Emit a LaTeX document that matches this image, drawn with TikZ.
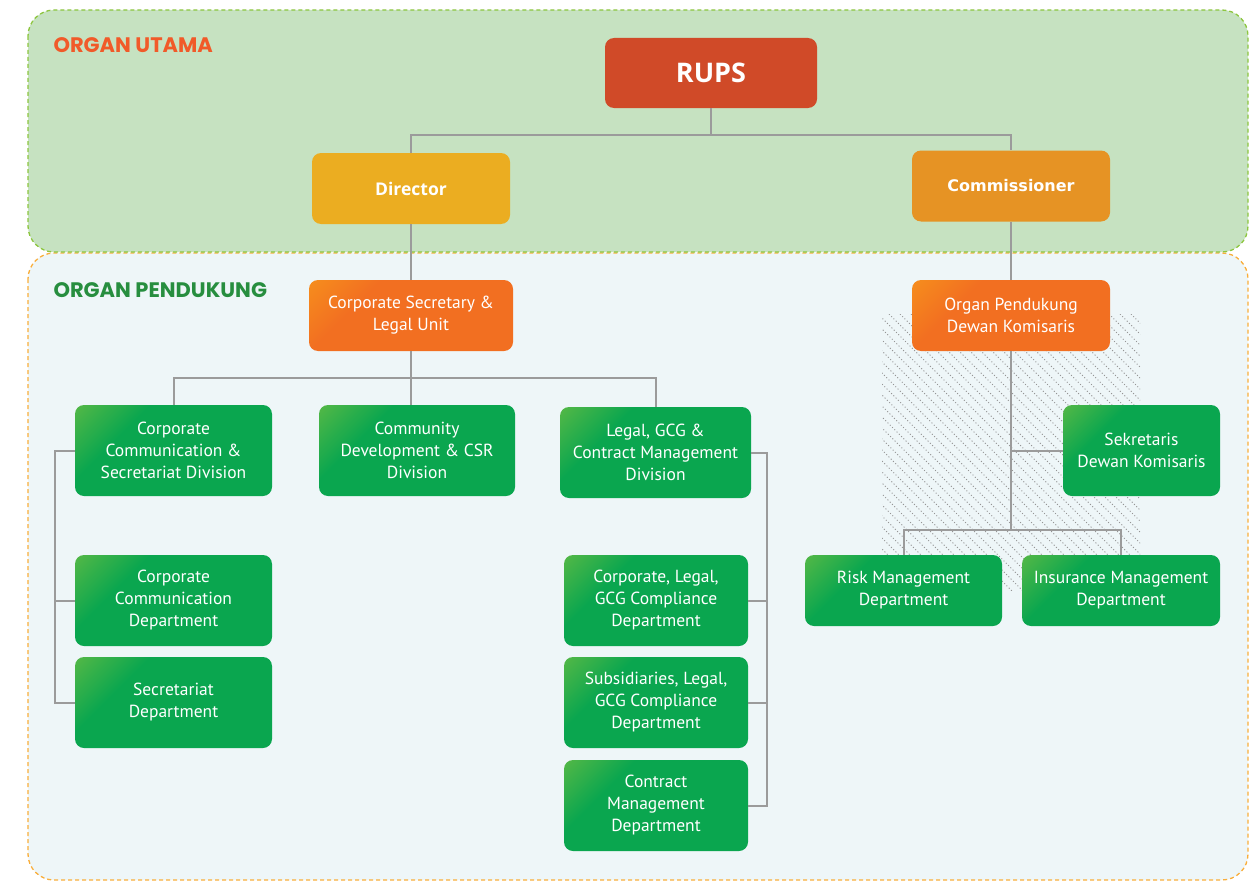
\documentclass[tikz,border=0pt]{standalone}
\usepackage{fontspec}
\setmainfont{PT Sans}
\newfontfamily\headfont{Poppins}
\newfontfamily\topfont{Open Sans}
\newfontfamily\wideboldfont{DejaVu Sans}
\usetikzlibrary{calc}
\definecolor{TopBg}{HTML}{C6E2C1}
\definecolor{LowBg}{HTML}{EEF6F8}
\definecolor{TopLine}{HTML}{8DC63F}
\definecolor{LowLine}{HTML}{F9AE3B}
\definecolor{Rups}{HTML}{D04A28}
\definecolor{Gold}{HTML}{EBAD21}
\definecolor{Amber}{HTML}{E69324}
\definecolor{OrgLight}{HTML}{F9A51A}
\definecolor{OrgMain}{HTML}{F26F21}
\definecolor{GrnLight}{HTML}{8DC63F}
\definecolor{GrnMain}{HTML}{0AA64F}
\definecolor{Wire}{HTML}{9B9B9B}
\definecolor{Hatch}{HTML}{959595}
\definecolor{TitleRed}{HTML}{F15A29}
\definecolor{TitleGreen}{HTML}{278E3F}
\pgfdeclarehorizontalshading{greenfade}{100bp}{color(0bp)=(GrnLight); color(33bp)=(GrnMain); color(100bp)=(GrnMain)}
\pgfdeclarehorizontalshading{orangefade}{100bp}{color(0bp)=(OrgLight); color(33bp)=(OrgMain); color(100bp)=(OrgMain)}
\tikzset{
  orgbox/.style={
    rounded corners=9pt, text=white, align=center, inner sep=0pt
  },
  topbox/.style={
    orgbox, font=\topfont\bfseries\fontsize{17.5}{20}\selectfont
  },
  unitbox/.style={
    orgbox, shading=orangefade, shading angle=-45,
    font=\fontsize{17.5}{22}\selectfont
  },
  deptbox/.style={
    orgbox, shading=greenfade, shading angle=-45,
    font=\fontsize{17.5}{22}\selectfont
  },
  link/.style={draw=Wire, line width=2pt},
  zone/.style={rounded corners=26pt, line width=1.3pt, dash pattern=on 4pt off 3pt},
  hatch/.style={draw=Hatch, line width=1pt, dash pattern=on 1pt off 2.2pt},
  zonelabel/.style={anchor=west, font=\headfont\bfseries\fontsize{21}{24}\selectfont}
}

\begin{document}
\begin{tikzpicture}[x=1pt,y=-1pt]
  \useasboundingbox (0,0) rectangle (1259,883);
  % zones
  \draw[zone, draw=LowLine, fill=LowBg] (28,253) rectangle (1248,880);
  \draw[zone, draw=TopLine, fill=TopBg] (28,10) rectangle (1248,252);
  \node[zonelabel, text=TitleRed] (utama) at (50,45) {ORGAN UTAMA};
  \node[zonelabel, text=TitleGreen] (pendukung) at (50,290) {ORGAN PENDUKUNG};
  % hatched area behind the board support
  \begin{scope}
    \clip (882,314) rectangle (1140,590);
    \foreach \i in {-290,-279,...,270}
      \draw[hatch] (882+\i,314) -- (1182+\i,614);
  \end{scope}

  % organ utama
  \node[topbox, fill=Rups, minimum width=212pt, minimum height=70pt,
    font=\topfont\bfseries\fontsize{27}{30}\selectfont] (rups) at (711,73) {RUPS};
  \node[topbox, fill=Gold, minimum width=198pt, minimum height=71pt] (director) at (411,188.5) {Director};
  \node[topbox, fill=Amber, minimum width=198pt, minimum height=71pt,
    font=\wideboldfont\bfseries\fontsize{16}{19}\selectfont] (commissioner) at (1011,186) {Commissioner};

  % organ pendukung
  \node[unitbox, minimum width=204pt, minimum height=71pt] (corpsec) at (411,315.5) {Corporate Secretary \&\\Legal Unit};
  \node[unitbox, minimum width=198pt, minimum height=71pt] (opdk) at (1011,315.5) {Organ Pendukung\\Dewan Komisaris};

  \node[deptbox, minimum width=197pt, minimum height=91pt] (ccsd) at (173.5,450.5) {Corporate\\Communication \&\\Secretariat Division};
  \node[deptbox, minimum width=196pt, minimum height=91pt] (cdcsr) at (417,450.5) {Community\\Development \& CSR\\Division};
  \node[deptbox, minimum width=191pt, minimum height=91pt] (lgcm) at (655.5,452.5) {Legal, GCG \&\\Contract Management\\Division};

  \node[deptbox, minimum width=197pt, minimum height=91pt] (ccdept) at (173.5,600.5) {Corporate\\Communication\\Department};
  \node[deptbox, minimum width=197pt, minimum height=91pt] (secdept) at (173.5,702.5) {Secretariat\\Department};

  \node[deptbox, minimum width=184pt, minimum height=91pt] (clgcg) at (656,600.5) {Corporate, Legal,\\GCG Compliance\\Department};
  \node[deptbox, minimum width=184pt, minimum height=91pt] (slgcg) at (656,702.5) {Subsidiaries, Legal,\\GCG Compliance\\Department};
  \node[deptbox, minimum width=184pt, minimum height=91pt] (cmdept) at (656,805.5) {Contract\\Management\\Department};

  \node[deptbox, minimum width=157pt, minimum height=91pt] (skdk) at (1141.5,450.5) {Sekretaris\\Dewan Komisaris};
  \node[deptbox, minimum width=197pt, minimum height=71pt] (riskdept) at (903.5,590.5) {Risk Management\\Department};
  \node[deptbox, minimum width=198pt, minimum height=71pt] (insdept) at (1121,590.5) {Insurance Management\\Department};

  % connectors
  \draw[link] (rups.south) -- ++(0,27) -| (director.north);
  \draw[link] (rups.south) -- ++(0,27) -| (commissioner.north);
  \draw[link] (director.south) -- (corpsec.north);
  \draw[link] (commissioner.south) -- (opdk.north);
  \draw[link] (corpsec.south) -- ++(0,27) -| (ccsd.north);
  \draw[link] (corpsec.south) -- ++(0,27) -| (lgcm.north);
  \draw[link] (corpsec.south) -- (corpsec.south |- cdcsr.north);
  \draw[link] (ccsd.west) -- ++(-20,0) |- (ccdept.west);
  \draw[link] (ccsd.west) -- ++(-20,0) |- (secdept.west);
  \draw[link] (lgcm.east) -- ++(16,0) |- (clgcg.east);
  \draw[link] (lgcm.east) -- ++(16,0) |- (slgcg.east);
  \draw[link] (lgcm.east) -- ++(16,0) |- (cmdept.east);
  \draw[link] (opdk.south) -- ++(0,179) coordinate (opdkjoin);
  \draw[link] (opdk.south |- skdk.west) -- (skdk.west);
  \draw[link] (opdkjoin) -| (riskdept.north);
  \draw[link] (opdkjoin) -| (insdept.north);
\end{tikzpicture}
\end{document}
